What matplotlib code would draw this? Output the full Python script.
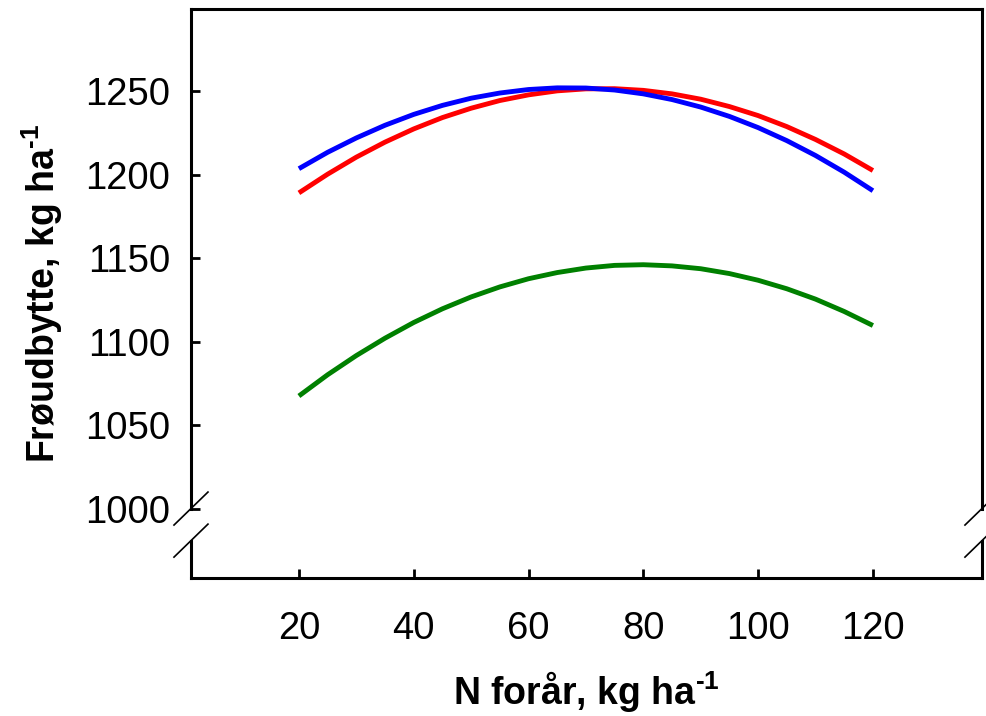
import matplotlib
matplotlib.use("Agg")
import matplotlib.pyplot as plt
import matplotlib.transforms as mtransforms

# ---- data ----
n_rate = [20, 25, 30, 35, 40, 45, 50, 55, 60, 65, 70, 75, 80, 85, 90, 95, 100, 105, 110, 115, 120]
blue_yield = [1203.5, 1213.3, 1221.9, 1229.5, 1236.0, 1241.4, 1245.7, 1248.8, 1250.9, 1251.9, 1251.8,
              1250.6, 1248.3, 1244.9, 1240.4, 1234.8, 1228.1, 1220.3, 1211.4, 1201.4, 1190.3]
red_yield = [1189.0, 1200.2, 1210.4, 1219.4, 1227.3, 1234.1, 1239.7, 1244.3, 1247.7, 1250.1, 1251.3,
             1251.4, 1250.4, 1248.3, 1245.1, 1240.7, 1235.3, 1228.7, 1221.0, 1212.3, 1202.4]
green_yield = [1067.4, 1080.1, 1091.6, 1102.0, 1111.4, 1119.6, 1126.7, 1132.7, 1137.6, 1141.3, 1144.0,
               1145.6, 1146.0, 1145.3, 1143.6, 1140.7, 1136.7, 1131.6, 1125.4, 1118.0, 1109.6]
x_ticks = [20, 40, 60, 80, 100, 120]
y_ticks = [1000, 1050, 1100, 1150, 1200, 1250]
x_label = "N forår, kg ha$^{\\mathbf{\u2010}\\mathbf{1}}$"
y_label = "Frøudbytte, kg ha$^{\\mathbf{\u2010}\\mathbf{1}}$"

plt.rcParams['font.family'] = ['Liberation Sans', 'DejaVu Sans']
plt.rcParams['mathtext.fontset'] = 'custom'
plt.rcParams['mathtext.rm'] = 'Liberation Sans'
plt.rcParams['mathtext.bf'] = 'Liberation Sans:bold'

fig = plt.figure(figsize=(9.87, 7.16), dpi=100)
ax = fig.add_axes([0.1935, 0.1927, 0.8014, 0.7954])

lw = 3.5
for yv, col in ((green_yield, '#008000'), (red_yield, '#ff0000'), (blue_yield, '#0000ff')):
    ax.plot(n_rate, yv, color=col, lw=lw, solid_capstyle='butt', solid_joinstyle='round')

ax.set_xlim(1.2, 139.0)
ax.set_ylim(958.4, 1299.4)
ax.set_xticks(x_ticks)
ax.set_yticks(y_ticks)
ax.tick_params(axis='both', direction='in', length=6.5, width=2.0, labelsize=27.5)
ax.tick_params(axis='y', pad=15)
ax.tick_params(axis='x', pad=24)

for s in ['top', 'bottom']:
    ax.spines[s].set_linewidth(2.2)
for s in ['left', 'right']:
    ax.spines[s].set_visible(False)

# split side spines with a break between 1000 and ~981
tr = mtransforms.blended_transform_factory(ax.transAxes, ax.transData)
y_lo, y_hi = ax.get_ylim()
brk_top, brk_bot = 1000.0, 980.8
for xa in (0.0, 1.0):
    ax.plot([xa, xa], [brk_top, y_hi], transform=tr, color='black', lw=2.2,
            clip_on=False, solid_capstyle='projecting')
    ax.plot([xa, xa], [y_lo, brk_bot], transform=tr, color='black', lw=2.2,
            clip_on=False, solid_capstyle='projecting')

# break marks (diagonal slashes)
dx = 17 / 791
dy_data = 16.5 * (y_hi - y_lo) / 569.5
for xa in (0.0, 1.0):
    for yb in (brk_top, brk_bot):
        ax.plot([xa - dx, xa + dx], [yb - dy_data, yb + dy_data], transform=tr,
                color='black', lw=1.2, clip_on=False)

ax.set_xlabel(x_label, fontsize=27, fontweight='bold', labelpad=16)
ax.set_ylabel(y_label, fontsize=27, fontweight='bold', labelpad=14.5)

fig.savefig("out.png", dpi=100)
